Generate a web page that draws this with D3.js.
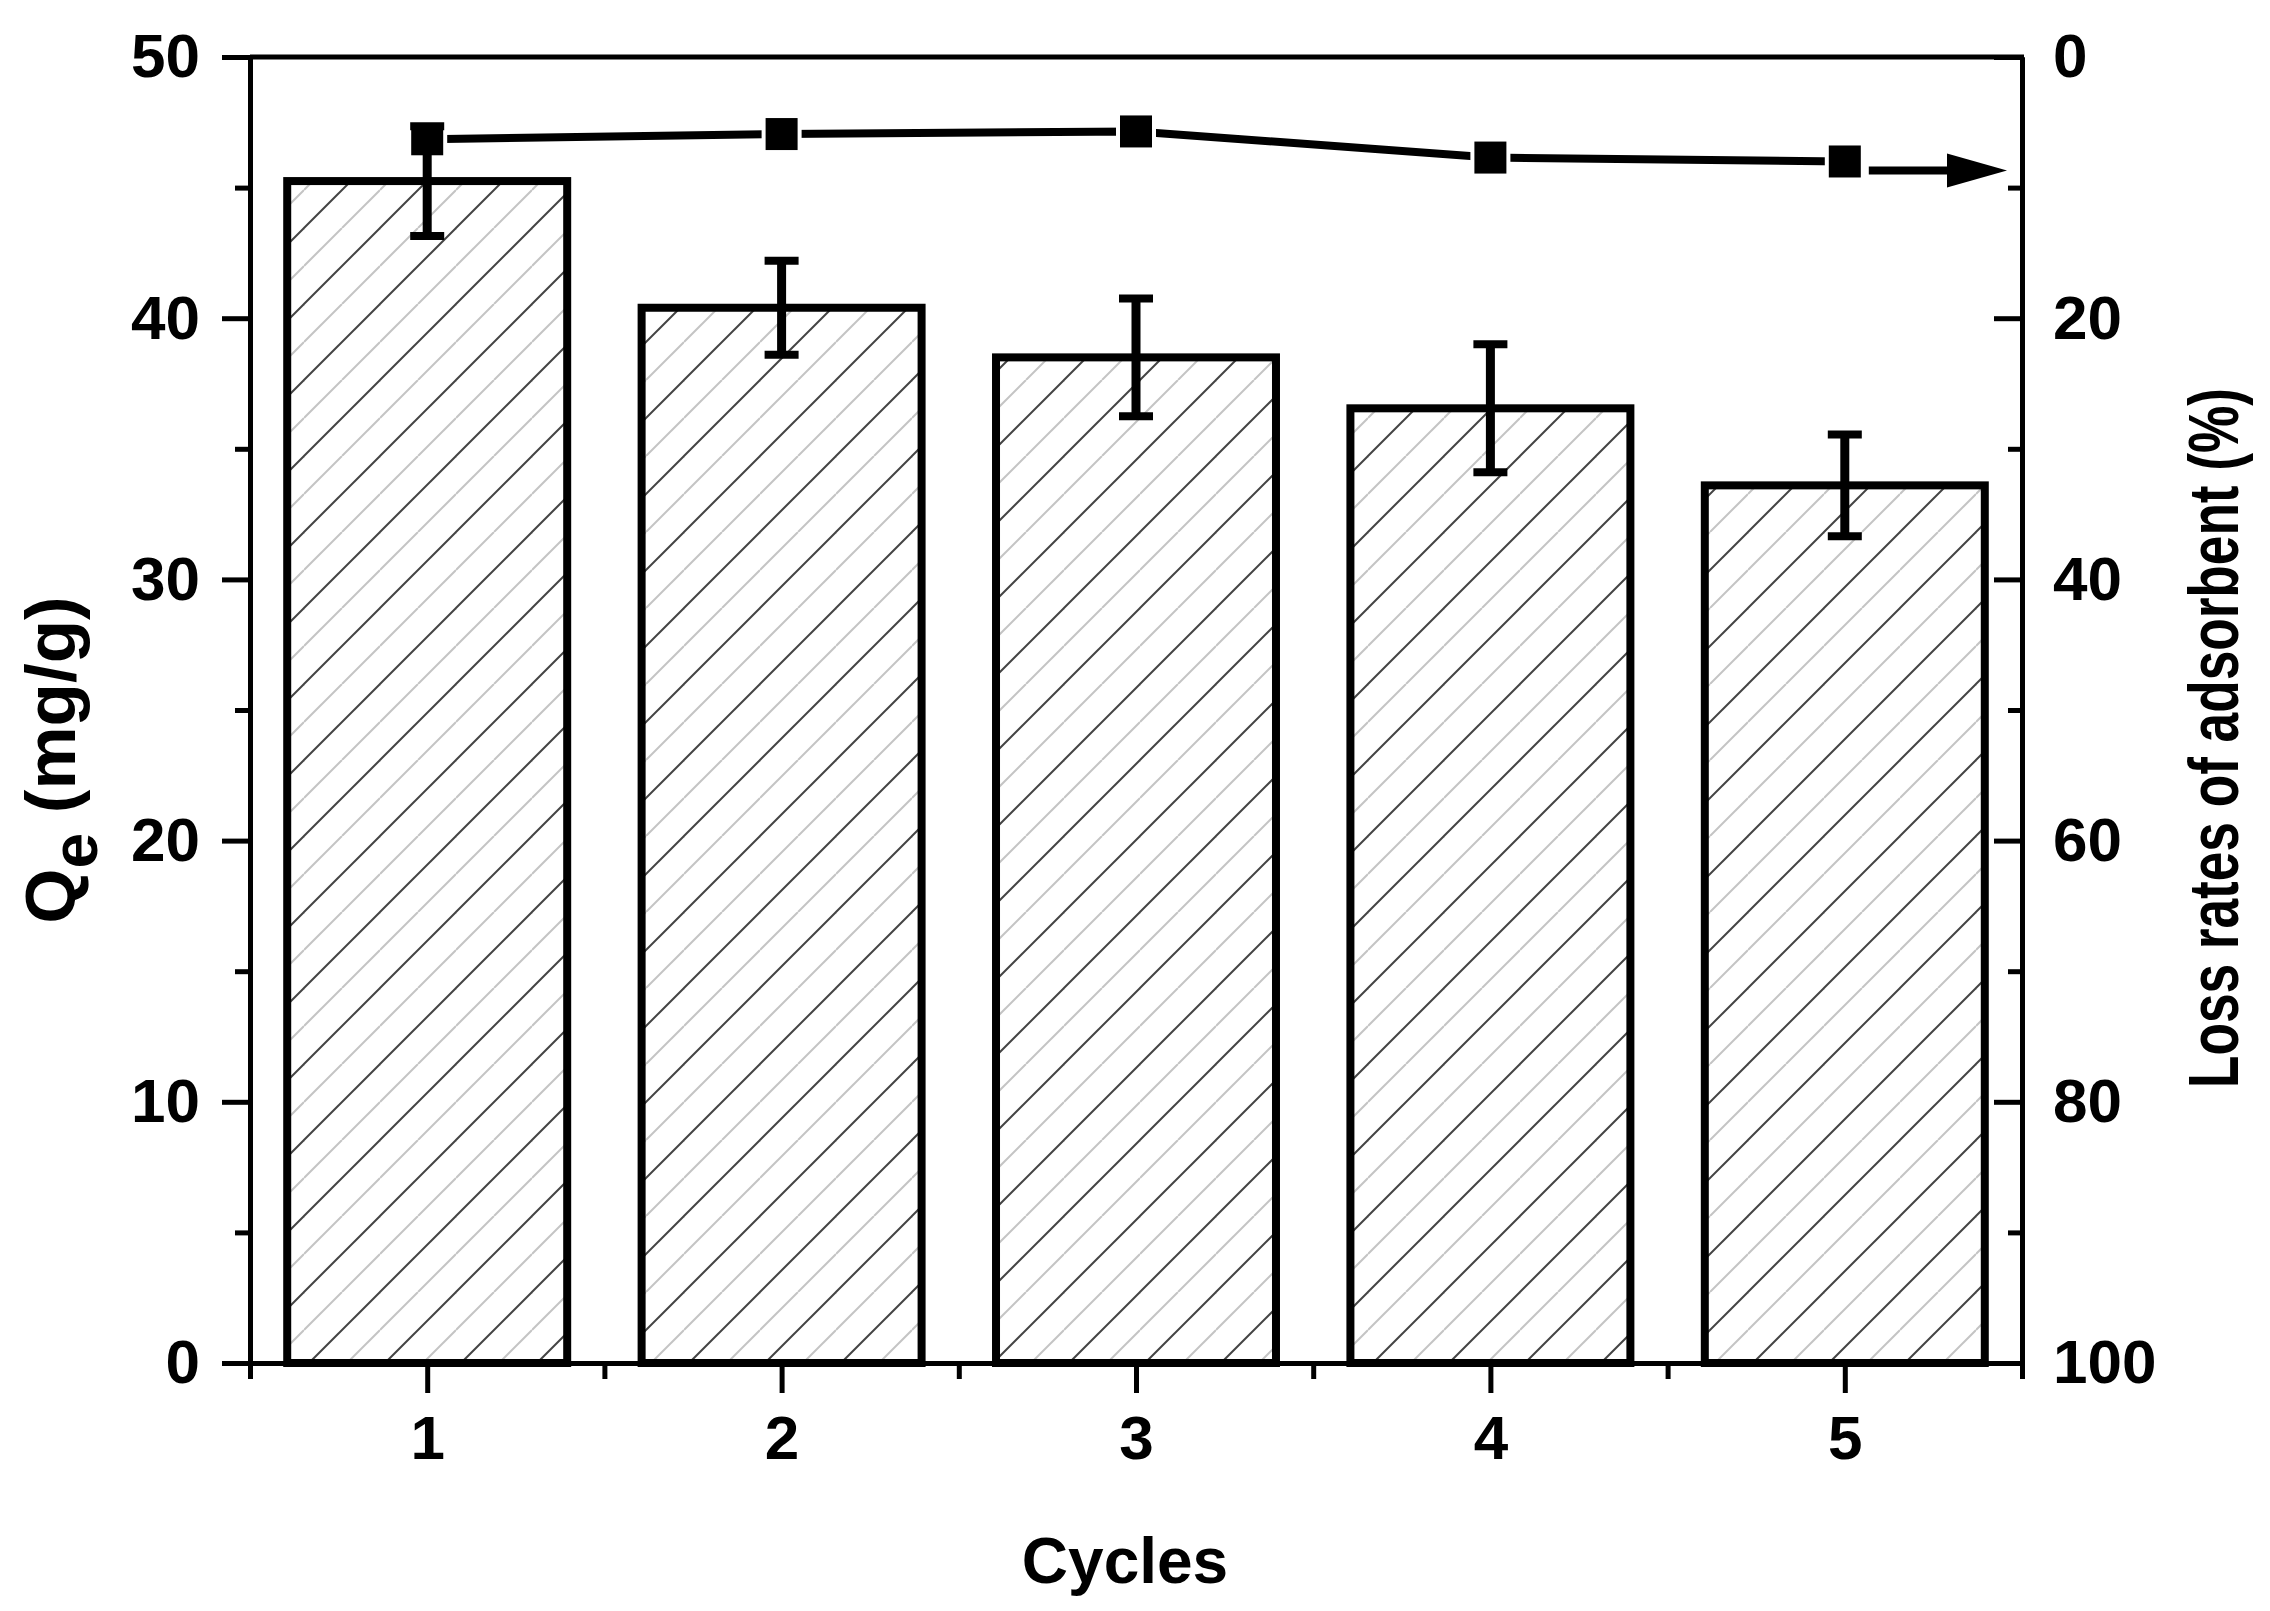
<!DOCTYPE html>
<html>
<head>
<meta charset="utf-8">
<script src="https://cdn.jsdelivr.net/npm/d3@7"></script>
<style>
  body { margin: 0; background: #fff; }
  svg { display: block; font-family: "Liberation Sans", Arial, sans-serif; font-weight: bold; }
</style>
</head>
<body>
<svg id="chart" width="2270" height="1611"></svg>
<script>
var cycles = [1, 2, 3, 4, 5];
var qe = [45.25, 40.4, 38.5, 36.55, 33.6];
var qeErr = [2.1, 1.8, 2.25, 2.45, 1.95];
var lossRate = [6.3, 5.9, 5.7, 7.7, 8.0];

var leftTicks = [0, 10, 20, 30, 40, 50];
var leftMinor = [5, 15, 25, 35, 45];
var rightTicks = [0, 20, 40, 60, 80, 100];
var rightMinor = [10, 30, 50, 70, 90];
var xMinor = [0.5, 1.5, 2.5, 3.5, 4.5, 5.5];

var plotLeft = 250, plotRight = 2022, plotTop = 57, plotBottom = 1363;

var svg = d3.select('#chart');

var x = d3.scaleLinear().domain([0.5, 5.5]).range([plotLeft, plotRight]);
var yL = d3.scaleLinear().domain([0, 50]).range([plotBottom, plotTop]);
var yR = d3.scaleLinear().domain([0, 100]).range([plotTop, plotBottom]);

// hatch pattern, alternating dark / light diagonals
var defs = svg.append('defs');
var pat = defs.append('pattern')
  .attr('id', 'hatch')
  .attr('patternUnits', 'userSpaceOnUse')
  .attr('width', 76).attr('height', 76);
var hatchLines = [
  {x1: -10, y1: 10, x2: 10, y2: -10, c: '#444'},
  {x1: 0, y1: 76, x2: 76, y2: 0, c: '#444'},
  {x1: 66, y1: 86, x2: 86, y2: 66, c: '#444'},
  {x1: 0, y1: 38, x2: 38, y2: 0, c: '#c4c4c4'},
  {x1: 38, y1: 76, x2: 76, y2: 38, c: '#c4c4c4'}
];
pat.selectAll('line').data(hatchLines).enter().append('line')
  .attr('x1', function(d){ return d.x1; })
  .attr('y1', function(d){ return d.y1; })
  .attr('x2', function(d){ return d.x2; })
  .attr('y2', function(d){ return d.y2; })
  .attr('stroke', function(d){ return d.c; })
  .attr('stroke-width', 2);

var barW = x(0.79) - x(0);

// bars
svg.selectAll('rect.bar').data(cycles).enter().append('rect')
  .attr('class', 'bar')
  .attr('x', function(d){ return x(d) - barW / 2; })
  .attr('y', function(d, i){ return yL(qe[i]); })
  .attr('width', barW)
  .attr('height', function(d, i){ return yL(0) - yL(qe[i]); })
  .attr('fill', 'url(#hatch)')
  .attr('stroke', '#000')
  .attr('stroke-width', 8);

// axes
function styleAxis(g){
  g.select('.domain').attr('stroke-width', 5);
  g.selectAll('.tick line').attr('stroke-width', 5);
  g.selectAll('.tick text')
    .attr('font-size', 62)
    .attr('font-family', '"Liberation Sans", Arial, sans-serif')
    .attr('font-weight', 'bold')
    .attr('fill', '#000');
}

svg.append('g')
  .attr('transform', 'translate(' + plotLeft + ',0)')
  .call(d3.axisLeft(yL).tickValues(leftMinor).tickSize(15).tickSizeOuter(0).tickFormat(''))
  .call(styleAxis);
svg.append('g')
  .attr('transform', 'translate(' + plotLeft + ',0)')
  .call(d3.axisLeft(yL).tickValues(leftTicks).tickSize(28).tickSizeOuter(0).tickPadding(22))
  .call(styleAxis);

svg.append('g')
  .attr('transform', 'translate(' + plotRight + ',0)')
  .call(d3.axisRight(yR).tickValues(rightMinor).tickSize(-14).tickSizeOuter(0).tickFormat(''))
  .call(styleAxis);
svg.append('g')
  .attr('transform', 'translate(' + plotRight + ',0)')
  .call(d3.axisRight(yR).tickValues(rightTicks).tickSize(-28).tickSizeOuter(0).tickPadding(31))
  .call(styleAxis);

svg.append('g')
  .attr('transform', 'translate(0,' + plotBottom + ')')
  .call(d3.axisBottom(x).tickValues(xMinor).tickSize(16).tickSizeOuter(0).tickFormat(''))
  .call(styleAxis);
svg.append('g')
  .attr('transform', 'translate(0,' + plotBottom + ')')
  .call(d3.axisBottom(x).tickValues(cycles).tickSize(30).tickSizeOuter(0).tickPadding(22).tickFormat(d3.format('d')))
  .call(styleAxis);

svg.append('line')
  .attr('x1', plotLeft).attr('x2', plotRight + 2)
  .attr('y1', plotTop).attr('y2', plotTop)
  .attr('stroke', '#000').attr('stroke-width', 5);

// loss rate line
var line = d3.line()
  .x(function(d){ return x(d); })
  .y(function(d, i){ return yR(lossRate[i]); });

svg.append('path')
  .datum(cycles)
  .attr('d', line)
  .attr('fill', 'none')
  .attr('stroke', '#000')
  .attr('stroke-width', 8);

// white halo so the line stops short of the symbols
svg.selectAll('rect.halo').data(cycles).enter().append('rect')
  .attr('x', function(d){ return x(d) - 20; })
  .attr('y', function(d, i){ return yR(lossRate[i]) - 21; })
  .attr('width', 40).attr('height', 42)
  .attr('fill', '#fff');

// error bars
var eb = svg.selectAll('g.err').data(cycles).enter().append('g').attr('class', 'err');
eb.append('line')
  .attr('x1', function(d){ return x(d); })
  .attr('x2', function(d){ return x(d); })
  .attr('y1', function(d, i){ return yL(qe[i] + qeErr[i]); })
  .attr('y2', function(d, i){ return yL(qe[i] - qeErr[i]); })
  .attr('stroke', '#000').attr('stroke-width', 9);
eb.selectAll('line.cap')
  .data(function(d, i){ return [{c: d, v: qe[i] + qeErr[i]}, {c: d, v: qe[i] - qeErr[i]}]; })
  .enter().append('line')
  .attr('class', 'cap')
  .attr('x1', function(d){ return x(d.c) - 17; })
  .attr('x2', function(d){ return x(d.c) + 17; })
  .attr('y1', function(d){ return yL(d.v); })
  .attr('y2', function(d){ return yL(d.v); })
  .attr('stroke', '#000').attr('stroke-width', 8);

// square symbols
svg.selectAll('rect.sym').data(cycles).enter().append('rect')
  .attr('class', 'sym')
  .attr('x', function(d){ return x(d) - 16; })
  .attr('y', function(d, i){ return yR(lossRate[i]) - 16; })
  .attr('width', 32).attr('height', 32)
  .attr('fill', '#000');

// arrow pointing to the right axis
var last = cycles.length - 1;
var ay = yR(lossRate[last]) + 9;
var ax0 = x(cycles[last]) + 24;
var axTip = plotRight - 15;
svg.append('line')
  .attr('x1', ax0).attr('x2', axTip - 50)
  .attr('y1', ay).attr('y2', ay)
  .attr('stroke', '#000').attr('stroke-width', 8);
svg.append('path')
  .attr('d', 'M' + (axTip - 60) + ',' + (ay - 17) + 'L' + axTip + ',' + ay + 'L' + (axTip - 60) + ',' + (ay + 17) + 'Z')
  .attr('fill', '#000');

// axis titles
svg.append('text')
  .attr('x', 1125).attr('y', 1583)
  .attr('text-anchor', 'middle')
  .attr('font-size', 64)
  .text('Cycles');

var yt = svg.append('text')
  .attr('transform', 'translate(75,760) rotate(-90)')
  .attr('text-anchor', 'middle')
  .attr('font-size', 71);
yt.append('tspan').text('Q');
yt.append('tspan').attr('dy', 22).attr('font-size', 64).text('e');
yt.append('tspan').attr('dy', -22).text(' (mg/g)');

svg.append('text')
  .attr('transform', 'translate(2238,738) rotate(-90)')
  .attr('text-anchor', 'middle')
  .attr('font-size', 70)
  .attr('textLength', 700)
  .attr('lengthAdjust', 'spacingAndGlyphs')
  .text('Loss rates of adsorbent (%)');
</script>
</body>
</html>
